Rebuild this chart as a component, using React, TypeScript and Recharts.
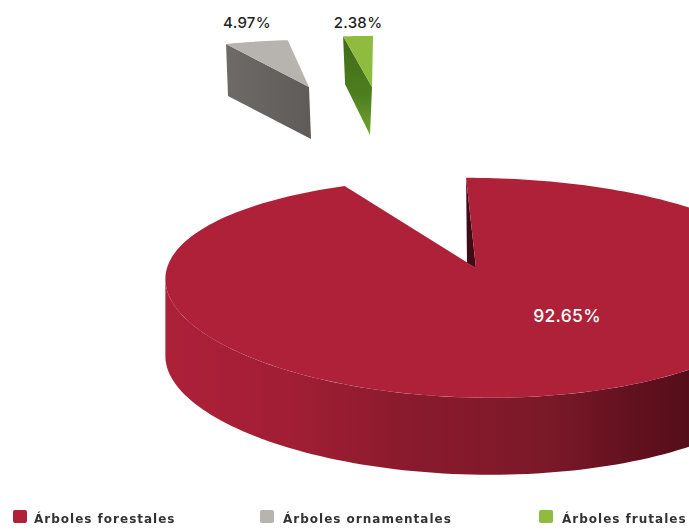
import React from "react";
import { PieChart, Pie, Legend } from "recharts";

const categories = ["Árboles forestales", "Árboles ornamentales", "Árboles frutales"];
const shares = [92.65, 4.97, 2.38];

const faceColors = ["#ae2138", "#b7b3af", "#8fbc3f"];
const wallColors = ["url(#mainWall)", "url(#grayWall)", "url(#greenWall)"];
// dx/dy: explode offset; s/sy: scale; k: shear; depth: wall height; wx: wall lean
const sliceLayout = [
  { dx: 0, dy: 0, s: 1, sy: 1, k: 0.11, depth: 77, wx: 0, lx: 91, ly: 47 },
  { dx: -167, dy: -181, s: 0.745, sy: 0.524, k: -0.19, depth: 52, wx: 2, lx: -62, ly: -65 },
  { dx: -104, dy: -181, s: 0.74, sy: 0.567, k: -0.02, depth: 48, wx: -2, lx: -14, ly: -65 },
];
const legendX = [13, 260, 539];
const legendTextGap = [21, 23, 23];

const pieData = categories.map((name, i) => ({ name, value: shares[i], fill: faceColors[i] }));

const RY_RATIO = 106.4 / 309;
const P = 0.18;
const Q = 0.14;

function project(aDeg: number, R: number, cx: number, cy: number, l: typeof sliceLayout[number]) {
  const a = (aDeg * Math.PI) / 180;
  const u = Math.cos(a);
  const v = -Math.sin(a);
  const yy = l.sy * R * RY_RATIO * (v / (1 - P * v));
  const xx = l.s * R * (u / (1 - Q * v)) + l.k * yy;
  return [cx + l.dx + xx, cy + l.dy + yy];
}

const toPath = (pts: number[][]) =>
  pts.map((p, i) => `${i ? "L" : "M"}${p[0].toFixed(2)} ${p[1].toFixed(2)}`).join("") + "Z";

function Slice3D(props: any) {
  const { cx, cy, outerRadius, startAngle, endAngle, index } = props;
  const i = index ?? categories.indexOf(props.name);
  const l = sliceLayout[i];
  const apex = [cx + l.dx, cy + l.dy];
  const rim: number[][] = [];
  const n = Math.max(8, Math.ceil(Math.abs(endAngle - startAngle) / 1.5));
  for (let j = 0; j <= n; j++) rim.push(project(startAngle + ((endAngle - startAngle) * j) / n, outerRadius, cx, cy, l));
  const face = toPath([apex, ...rim]);
  let wall = "";
  let notch = null;
  if (i === 0) {
    const front: number[][] = [];
    for (let a = 165; a <= 375; a += 1.5) front.push(project(a, outerRadius, cx, cy, l));
    let lo = 0;
    let hi = 0;
    front.forEach((p, j) => {
      if (p[0] < front[lo][0]) lo = j;
      if (p[0] > front[hi][0]) hi = j;
    });
    const vis = front.slice(lo, hi + 1);
    wall = toPath([...vis, ...vis.slice().reverse().map((p) => [p[0], p[1] + l.depth])]);
    notch = <path d={toPath([rim[0], [apex[0] - 9, apex[1] - 5], apex])} fill="#3f0b14" />;
  } else {
    const first = rim[0];
    wall = toPath([first, apex, [apex[0] + l.wx, apex[1] + l.depth], [first[0] + 2, first[1] + l.depth]]);
  }
  return (
    <g>
      <path d={wall} fill={wallColors[i]} />
      {notch}
      <path d={face} fill={faceColors[i]} />
    </g>
  );
}

function renderLabel(props: any) {
  const { cx, cy, value, index } = props;
  const l = sliceLayout[index];
  return (
    <text
      x={cx + l.dx + l.lx}
      y={cy + l.dy + l.ly}
      textAnchor="middle"
      dominantBaseline="central"
      fontFamily="Inter, sans-serif"
      fontWeight={500}
      letterSpacing={0.3}
      fontSize={index === 0 ? 17.5 : 15}
      fill={index === 0 ? "#ffffff" : "#1f1f1f"}
    >
      {Number(value).toFixed(2)}%
    </text>
  );
}

function LegendRow(props: any) {
  const items = props.payload || [];
  return (
    <div style={{ position: "relative", width: 689, height: 30, filter: "blur(0.5px)" }}>
      {items.map((it: any, i: number) => (
        <div key={it.value} style={{ position: "absolute", left: legendX[i], top: 9 }}>
          <span
            style={{
              position: "absolute",
              left: 0,
              top: 1,
              width: 14,
              height: 13,
              borderRadius: 2,
              background: it.color,
            }}
          />
          <span
            style={{
              position: "absolute",
              left: legendTextGap[i],
              top: 1,
              whiteSpace: "nowrap",
              fontFamily: "'DejaVu Sans', sans-serif",
              fontWeight: 700,
              fontSize: 12,
              letterSpacing: 1,
              lineHeight: "18px",
              color: "#333",
            }}
          >
            {it.value}
          </span>
        </div>
      ))}
    </div>
  );
}

export default function App() {
  return (
    <div style={{ position: "absolute", left: 0, top: 0, width: 689, height: 530, overflow: "hidden", background: "#fff" }}>
      <PieChart width={689} height={530} margin={{ top: 0, right: 0, bottom: 0, left: 0 }}>
        <defs>
          <linearGradient id="mainWall" gradientUnits="userSpaceOnUse" x1="165" y1="0" x2="700" y2="0">
            <stop offset="0" stopColor="#ad2038" />
            <stop offset="0.25" stopColor="#a01e34" />
            <stop offset="0.45" stopColor="#8a1a2d" />
            <stop offset="0.7" stopColor="#7c1929" />
            <stop offset="0.9" stopColor="#5f101d" />
            <stop offset="1" stopColor="#520e19" />
          </linearGradient>
          <linearGradient id="grayWall" x1="0" y1="0" x2="1" y2="0">
            <stop offset="0" stopColor="#6e6a67" />
            <stop offset="1" stopColor="#5f5b59" />
          </linearGradient>
          <linearGradient id="greenWall" x1="0" y1="0" x2="0" y2="1">
            <stop offset="0" stopColor="#3f6a18" />
            <stop offset="0.6" stopColor="#4f7e1f" />
            <stop offset="1" stopColor="#75a332" />
          </linearGradient>
        </defs>
        <Pie
          data={pieData}
          dataKey="value"
          nameKey="name"
          cx={476}
          cy={268}
          innerRadius={0}
          outerRadius={309}
          startAngle={90}
          endAngle={-270}
          stroke="none"
          isAnimationActive={false}
          labelLine={false}
          label={renderLabel}
          shape={Slice3D}
        />
        <Legend itemSorter={null} content={LegendRow} wrapperStyle={{ position: "absolute", left: 0, top: 500, width: 689 }} />
      </PieChart>
    </div>
  );
}
